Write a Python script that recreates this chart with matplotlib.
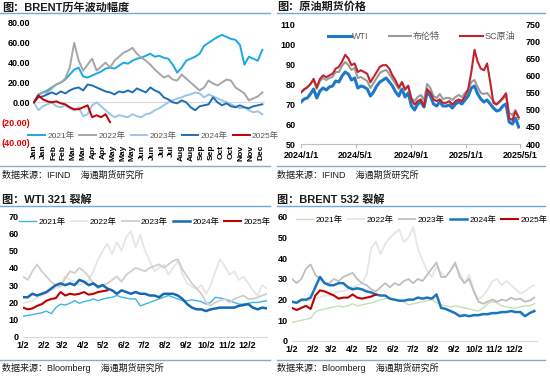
import numpy as np
import pandas as pd
import matplotlib.pyplot as plt
from matplotlib.lines import Line2D

plt.rcParams['font.family'] = ['Liberation Sans', 'Noto Sans CJK SC', 'DejaVu Sans']

# ---- 图1: BRENT历年波动幅度 (每5个交易日取一点) ----
b_2021 = [0, 8, 10, 12, 15, 18, 20, 23, 28, 33, 35, 26, 25, 27, 29, 31, 34, 35, 34, 37,
          40, 39, 42, 44, 45, 47, 49, 46, 47, 45, 44, 38, 30, 35, 42, 44, 46, 49, 57, 60,
          63, 66, 68, 66, 64, 63, 58, 38, 46, 44, 42, 53]
b_2022 = [0, 7, 10, 10, 14, 18, 20, 24, 35, 60, 42, 32, 38, 44, 32, 36, 40, 35, 42, 46,
          50, 52, 55, 49, 45, 42, 38, 33, 29, 25, 27, 23, 22, 28, 24, 20, 16, 12, 15, 22,
          19, 17, 20, 23, 22, 15, 12, 9, 2, 4, 6, 10]
b_2023 = [0, -8, -4, -2, 0, -4, -5, -3, -6, -8, -5, -14, -12, -3, 0, -4, -8, -12, -15, -13,
          -14, -15, -12, -14, -15, -12, -11, -8, -6, -3, 0, 2, 4, 5, 7, 8, 10, 9, 5, 8,
          6, 4, 2, 0, -2, -4, -6, -5, -8, -10, -9, -12]
b_2024 = [0, 5, 6, 8, 10, 8, 11, 9, 12, 14, 15, 12, 18, 17, 15, 13, 11, 10, 8, 11,
          10, 12, 10, 14, 12, 10, 15, 12, 10, 5, 3, 0, -1, 2, 0, -5, -8, -4, -3, -2,
          5, 0, -3, -1, -4, -5, -3, -5, -6, -4, -3, -2]
b_2025 = [0, 7, 3, 1, 0, 1, -1, -2, -5, -7, -7, -5, -3, -15, -13, -15, -12, -20]
month_ticks = ['Jan', 'Jan', 'Feb', 'Feb', 'Mar', 'Mar', 'Apr', 'Apr', 'May', 'May', 'May', 'Jun',
               'Jun', 'Jul', 'Jul', 'Aug', 'Aug', 'Sep', 'Sep', 'Oct', 'Oct', 'Nov', 'Nov', 'Dec']

# ---- 图2: 原油期货价格 (周度) ----
wti = [71, 72.5, 73, 75, 77.5, 73, 76.5, 78, 77, 78.5, 79, 81.5, 81, 84, 86, 85, 82, 83, 78, 79,
       78.5, 77.5, 74, 76, 79, 81, 82, 83, 81, 79, 76, 74, 77.5, 73.5, 75.5, 69, 67, 70, 71, 68.5,
       76, 74, 70, 69, 71, 69, 69, 69.5, 68, 70, 71, 70, 72, 74, 78, 79, 75, 72.5, 71, 72,
       70, 68, 66.5, 67, 69, 70, 61, 60, 63, 58.5]
brent = [76, 77, 78.5, 80, 82, 77.5, 81.5, 83, 82, 83, 83.5, 86, 86, 89, 91, 89.5, 87, 88, 83, 83.5,
         82.5, 81.5, 78, 80.5, 83, 85.5, 86.5, 87, 85, 82.5, 80, 77.5, 81, 77, 79, 73, 71.5, 73.5, 74.5, 72,
         80, 78, 74, 73, 75, 72.5, 73, 73, 72, 73.5, 74.5, 73.5, 75.5, 77, 81, 82, 78.5, 75.5, 75, 75.5,
         73.5, 71.5, 70, 71, 72.5, 74.5, 65.5, 64.5, 67, 62.5]
sc = [550, 560, 565, 575, 590, 565, 590, 600, 595, 600, 605, 620, 625, 640, 660, 650, 630, 635, 610, 615,
      610, 605, 580, 595, 610, 625, 630, 630, 620, 600, 585, 565, 580, 560, 570, 530, 515, 525, 530, 510,
      560, 550, 530, 525, 530, 520, 520, 525, 515, 525, 530, 525, 540, 560, 610, 675, 640, 620, 615, 635,
      580, 520, 515, 525, 535, 548, 475, 470, 495, 478]
price_dates = pd.date_range('2024-01-01', periods=len(wti), freq='W-MON')
price_ticks = ['2024-01-01', '2024-05-01', '2024-09-01', '2025-01-01', '2025-05-01']
price_tick_labels = ['2024/1/1', '2024/5/1', '2024/9/1', '2025/1/1', '2025/5/1']

# ---- 图3: WTI 321 裂解 (周度) ----
w_2021 = [12, 12.5, 13, 13.5, 14, 15, 13.5, 17, 19, 18.5, 19.5, 21, 19.5, 20.5, 21, 22, 21, 22, 22.5, 23,
          24, 23, 22.5, 22, 22, 18, 19, 20, 21, 22, 23, 24, 23, 22, 21, 21, 21.5, 21, 20.5, 19,
          20, 23, 22.5, 22, 21, 20, 19, 19, 19.5, 20, 20, 20.5, 21]
w_2022 = [20, 20, 21, 23, 24, 25, 27, 28, 30, 35, 33, 32, 30, 31, 33, 38, 45, 50, 54, 48,
          55, 50, 58, 61, 52, 59, 50, 44, 38, 40, 42, 36, 40, 44, 36, 31, 29, 28, 30, 25,
          30, 38, 45, 41, 36, 38, 33, 35, 31, 27, 24, 30, 28]
w_2023 = [35, 33, 38, 42, 38, 35, 32, 30, 29, 34, 38, 37, 40, 38, 35, 31, 28, 30, 31, 33,
          35, 32, 36, 38, 40, 39, 38, 40, 41, 42, 40, 42, 44, 45, 39, 35, 31, 28, 25, 20,
          18, 20, 21, 22, 20, 22, 23, 24, 22, 22, 23, 24, 25]
w_2024 = [23, 23, 25, 24, 25, 26, 28, 30, 31, 30, 31, 30, 33, 32, 30, 31, 29, 30, 28, 27,
          25, 27, 26, 25, 26, 25, 25, 24, 24, 23, 25, 25, 25, 24, 22, 19, 17, 16, 16, 15,
          16, 16.5, 17, 17, 17, 17, 18, 18.5, 19, 17, 16, 17, 16.5]
w_2025 = [17, 16, 16.5, 18, 19, 21, 22, 22.5, 26, 24, 25, 24.5, 25, 26, 24.5, 25, 26, 26.5, 27]

# ---- 图4: BRENT 532 裂解 (周度) ----
r_2021 = [9, 9.5, 10, 10.5, 11, 14, 15, 15.5, 16, 16.5, 17, 16.5, 17, 18, 17, 17.5, 18, 18.5, 19, 20,
          20.5, 20.5, 20, 20, 19, 17.5, 18, 18.5, 19, 19.5, 20, 18.5, 17.5, 17, 16.5, 17, 16.5, 16, 15.5, 15,
          14.5, 16, 18, 19, 18.5, 17, 16.5, 16, 16, 16.5, 17, 17, 18]
r_2022 = [19, 18, 19, 19.5, 20, 21, 21, 22, 22, 23, 24, 24, 25, 26, 27, 28, 32, 45, 48, 42,
          47, 50, 52, 54, 48, 50, 55, 45, 39, 34, 31, 36, 33, 31, 34, 37, 33, 28, 32, 25,
          20, 22, 25, 29, 30, 27, 29, 27, 25, 23, 24, 26, 27]
r_2023 = [30, 28, 30, 35, 37, 32, 30, 28, 28, 30, 29, 31, 32, 33, 30, 28, 27, 25, 24, 26,
          28, 26, 28, 27, 29, 30, 28, 30, 29, 32, 35, 38, 31, 31, 34, 38, 31, 28, 30, 24,
          19, 18, 19, 20, 19, 20, 19.5, 21, 20, 20.5, 19, 19.5, 21]
r_2024 = [19, 18.5, 20, 20, 21, 26, 31, 28, 27, 27, 28, 28, 26, 25, 25.5, 25, 24, 23.5, 22.5, 22,
          22, 20.5, 20, 19.5, 19.5, 20, 20, 21, 20.5, 21, 20.5, 22.5, 16, 15.5, 14.5, 13.5, 12, 12.5, 12, 12.5,
          12.5, 13, 13, 13.5, 13.5, 14, 14, 14.5, 14, 14, 12, 13.5, 14.5]
r_2025 = [16, 15, 16, 17, 15.5, 22, 24.5, 24, 23, 22, 20.5, 21, 21, 22.5, 21, 20.5, 21, 21.5, 22.5]

crack_tick_days = [0, 31, 59, 90, 120, 151, 181, 212, 243, 273, 304, 334]
crack_tick_labels = ['1/2', '2/2', '3/2', '4/2', '5/2', '6/2', '7/2', '8/2', '9/2', '10/2', '11/2', '12/2']
years = ['2021年', '2022年', '2023年', '2024年', '2025年']

W, H = 550, 386
fig = plt.figure(figsize=(5.5, 3.86), dpi=100)


def box(x0, y0, x1, y1):
    # 像素坐标 -> figure 坐标
    return [x0 / W, (H - y1) / H, (x1 - x0) / W, (y1 - y0) / H]


def hline(x0, x1, y, color='#6FA8DC', lw=1.0):
    fig.add_artist(Line2D([x0 / W, x1 / W], [(H - y) / H] * 2, color=color, lw=lw))


# 标题、分隔线、来源
for x, y, t in [(2, 7, '图：BRENT历年波动幅度'), (277, 7, '图：原油期货价格'),
                (2, 200, '图：WTI 321 裂解'), (277, 200, '图：BRENT 532 裂解')]:
    fig.text(x / W, (H - y) / H, t, fontsize=8, fontweight='bold', va='center', color='#1a1a1a')
for x0, x1 in [(0, 270), (277, 545)]:
    hline(x0, x1, 13)
    hline(x0, x1, 206)
    hline(x0, x1, 166, color='#8EA9C8')
    hline(x0, x1, 360, color='#8EA9C8')
for x, y, t in [(2, 175, '数据来源：IFIND    海通期货研究所'), (277, 175, '数据来源：IFIND    海通期货研究所'),
                (2, 368, '数据来源：Bloomberg    海通期货研究所'), (277, 368, '数据来源：Bloomberg    海通期货研究所')]:
    fig.text(x / W, (H - y) / H, t, fontsize=6.5, va='center', color='#1a1a1a')

leg_kw = dict(frameon=False, fontsize=6, handlelength=2.0, columnspacing=0.6, handletextpad=0.3)

# ---- 图1 ----
ax1 = fig.add_axes(box(33, 23, 265, 142))
cols1 = ['#19A9E4', '#A6A6A6', '#9DC3E6', '#1F6EB5', '#C00000']
for vals, c, lab in zip([b_2021, b_2022, b_2023, b_2024, b_2025], cols1, years):
    ax1.plot(np.arange(len(vals)) * 5, vals, color=c, lw=1.4, label=lab)
ax1.axhline(0, color='#D9D9D9', lw=0.8, zorder=0)
ax1.set_ylim(-40, 80)
ax1.set_xlim(-1, 258)
ax1.set_yticks([-40, -20, 0, 20, 40, 60, 80])
ax1.set_yticklabels(['(40.00)', '(20.00)', '0.00', '20.00', '40.00', '60.00', '80.00'],
                    fontsize=6.5, fontweight='bold')
for t in ax1.get_yticklabels()[:2]:
    t.set_color('#E00000')
ax1.set_xticks(np.arange(len(month_ticks)) * 11)
ax1.set_xticklabels(month_ticks, rotation=90, fontsize=6, fontweight='bold')
ax1.tick_params(length=0, pad=2)
for s in ax1.spines.values():
    s.set_visible(False)
ax1.legend(loc='center', bbox_to_anchor=(0.52, 0.05), ncol=5, labelcolor='#595959', **leg_kw)

# ---- 图2 ----
ax2 = fig.add_axes(box(301, 24, 520, 144))
ax2r = ax2.twinx()
l1, = ax2.plot(price_dates, wti, color='#1F77C8', lw=2.2, label='WTI')
l2, = ax2.plot(price_dates, brent, color='#9A9A9A', lw=1.5, label='布伦特')
l3, = ax2r.plot(price_dates, sc, color='#C0232C', lw=1.5, label='SC原油')
ax2.set_ylim(50, 110)
ax2r.set_ylim(400, 750)
ax2.set_yticks(range(50, 111, 10))
ax2r.set_yticks(range(400, 751, 50))
ax2.set_xlim(pd.Timestamp('2024-01-01'), pd.Timestamp('2025-05-01'))
ax2.set_xticks(pd.to_datetime(price_ticks))
ax2.set_xticklabels(price_tick_labels, fontsize=6.5, fontweight='bold')
for a in (ax2, ax2r):
    for s in a.spines.values():
        s.set_visible(False)
    a.tick_params(axis='y', length=0, labelsize=6.5, pad=4)
    for t in a.get_yticklabels():
        t.set_fontweight('bold')
ax2.spines['bottom'].set_visible(True)
ax2.spines['bottom'].set_color('#BFBFBF')
ax2.tick_params(axis='x', length=3, color='#BFBFBF', pad=2)
ax2.legend(handles=[l1, l2, l3], loc='upper center', bbox_to_anchor=(0.55, 1.0), ncol=3,
           frameon=False, fontsize=6.5, handlelength=2.5, columnspacing=2.2, handletextpad=0.2,
           labelcolor='#595959')


def crack(ax, series, cols, lws, ymax, ystep, xmax, legend_x, legend_y):
    for vals, c, lw, lab in zip(series, cols, lws, years):
        ax.plot(np.arange(len(vals)) * 7, vals, color=c, lw=lw, label=lab)
    ax.set_ylim(0, ymax)
    ax.set_xlim(0, xmax)
    ax.set_yticks(range(0, ymax + 1, ystep))
    ax.set_xticks(crack_tick_days)
    ax.set_xticklabels(crack_tick_labels)
    ax.tick_params(length=0, labelsize=6.5, pad=3)
    for t in ax.get_xticklabels() + ax.get_yticklabels():
        t.set_fontweight('bold')
    for s in ax.spines.values():
        s.set_visible(False)
    ax.spines['bottom'].set_visible(True)
    ax.spines['bottom'].set_color('#D9D9D9')
    ax.legend(loc='center', bbox_to_anchor=(legend_x, legend_y), ncol=5, **leg_kw)


# ---- 图3 ----
ax3 = fig.add_axes(box(23, 216, 267, 337))
crack(ax3, [w_2021, w_2022, w_2023, w_2024, w_2025],
      ['#3DB5E8', '#E6E6E6', '#CFCFCF', '#1668B3', '#C00000'],
      [1.0, 1.3, 1.3, 1.8, 1.5], 70, 10, 364, 0.5, 0.95)

# ---- 图4 ----
ax4 = fig.add_axes(box(292, 217, 537, 341))
crack(ax4, [r_2021, r_2022, r_2023, r_2024, r_2025],
      ['#C5E0B4', '#E6E6E6', '#BFBFBF', '#1B75BC', '#C00000'],
      [1.0, 1.3, 1.3, 1.8, 1.5], 60, 10, 368, 0.53, 0.975)

fig.savefig('out.png', dpi=100)
